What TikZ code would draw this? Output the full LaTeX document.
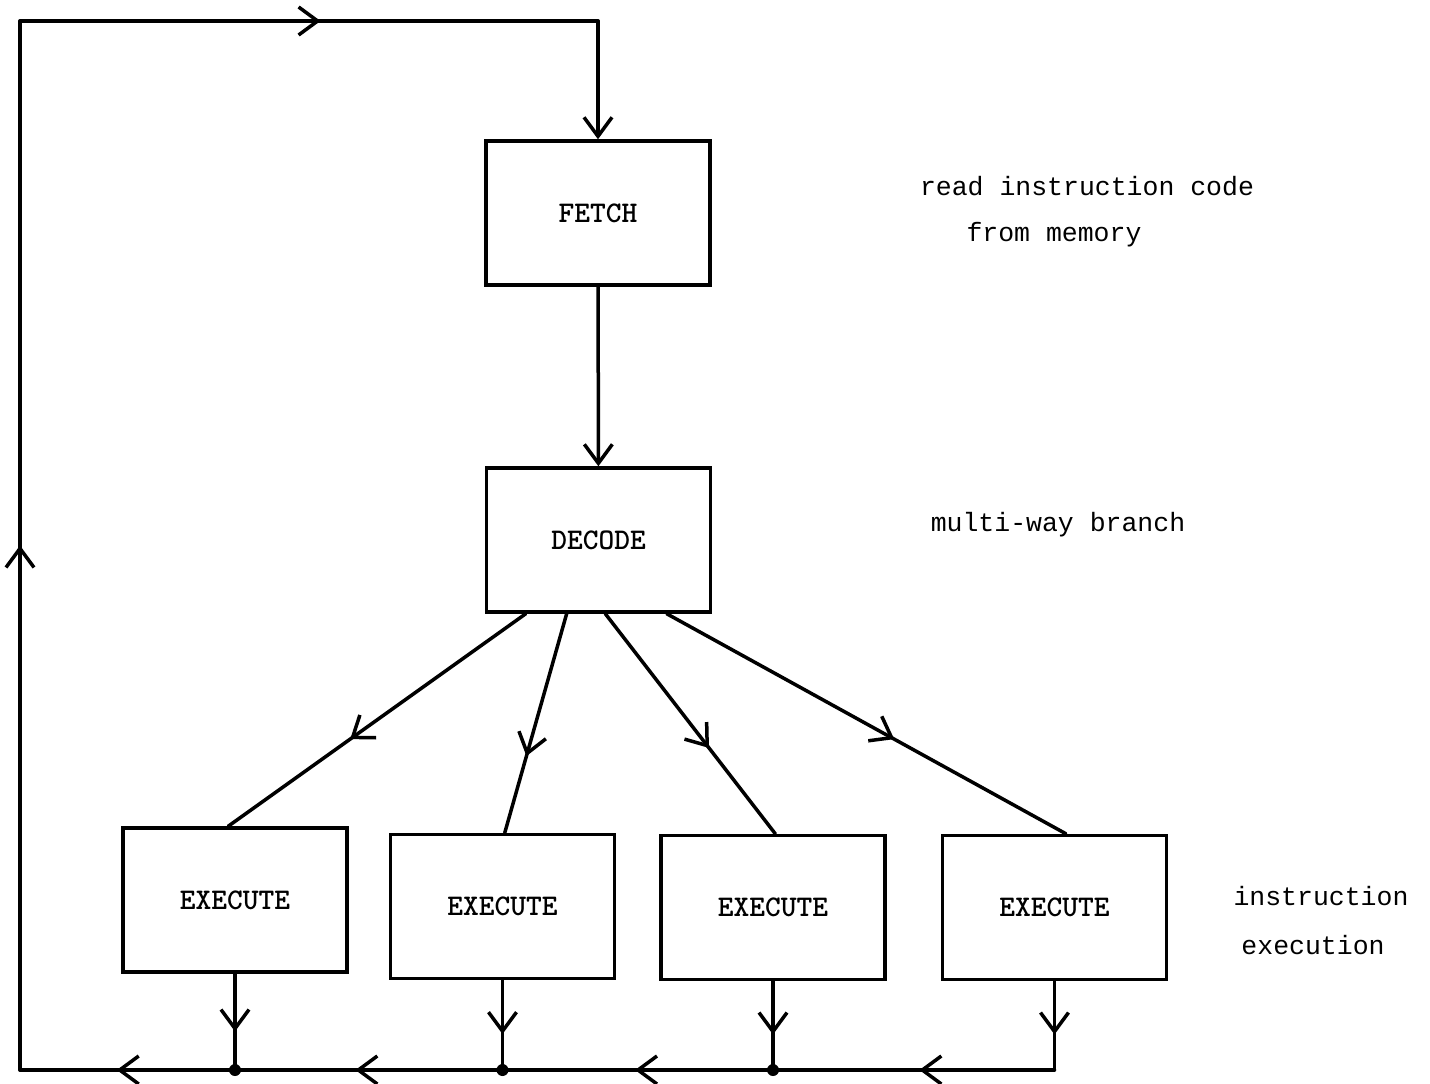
\documentclass[tikz,border=0pt]{standalone}
\usepackage{fontspec}
\newfontfamily\notefont{Liberation Mono}
\usetikzlibrary{calc,arrows.meta,decorations.markings,positioning}

\begin{document}
\begin{tikzpicture}[x=1pt,y=-1pt]

\tikzset{
unit/.style={draw,line width=3.5pt,minimum width=224pt,minimum height=144pt,inner sep=0pt,font=\ttfamily\bfseries\fontsize{30}{34}\selectfont},
note/.style={font=\notefont\fontsize{26.5}{30}\selectfont},
flow/.style={line width=3.5pt,line cap=round,line join=round},
tip/.style={-{Straight Barb[length=19pt,width=28pt]}},
midarrow/.style={postaction={decorate},decoration={markings,mark=at position #1 with {\arrow{Straight Barb[length=19pt,width=28pt]}}}},
junction/.style={circle,fill,inner sep=0pt,minimum size=12pt}
}

\useasboundingbox (0,0) rectangle (1430,1084);

% Nodes
\node[unit] (fetch) at (598,213) {FETCH};
\node[unit] (decode) at (598.5,540) {DECODE};

\node[unit] (ex1) at (235,900) {EXECUTE};
\node[unit] (ex2) at (502.5,906.5) {EXECUTE};
\node[unit] (ex3) at (773,907.5) {EXECUTE};
\node[unit] (ex4) at (1054.5,907.5) {EXECUTE};

\coordinate (bl) at (20,1070);
\coordinate (tl) at (20,21);
\coordinate (tr) at (fetch.north |- tl);

\coordinate (j1) at (ex1.south |- bl);
\coordinate (j2) at (ex2.south |- bl);
\coordinate (j3) at (ex3.south |- bl);
\coordinate (j4) at (ex4.south |- bl);

\coordinate (br1) at ($(decode.south west)!0.18!(decode.south east)$);
\coordinate (br2) at ($(decode.south west)!0.36!(decode.south east)$);
\coordinate (br3) at ($(decode.south west)!0.53!(decode.south east)$);
\coordinate (br4) at ($(decode.south west)!0.80!(decode.south east)$);

\coordinate (ex1top) at ($(ex1.north west)!0.47!(ex1.north east)$);
\coordinate (ex2top) at ($(ex2.north west)!0.51!(ex2.north east)$);
\coordinate (ex3top) at ($(ex3.north west)!0.51!(ex3.north east)$);
\coordinate (ex4top) at ($(ex4.north west)!0.55!(ex4.north east)$);


% Loop back
\draw[flow,midarrow=0.5] (bl) -- (tl);
\draw[flow,midarrow=0.52] (tl) -- (tr);
\draw[flow,tip] (tr) -- (fetch.north);

\draw[flow,tip] (fetch) -- (decode);


% Branches
\draw[flow,midarrow=0.59] (br1) -- (ex1top);
\draw[flow,midarrow=0.65] (br2) -- (ex2top);
\draw[flow,midarrow=0.61] (br3) -- (ex3top);
\draw[flow,midarrow=0.57] (br4) -- (ex4top);


% Return lines
\draw[flow,midarrow=0.6] (ex1.south) -- (j1);
\draw[flow,midarrow=0.6] (ex2.south) -- (j2);
\draw[flow,midarrow=0.6] (ex3.south) -- (j3);
\draw[flow,midarrow=0.6] (ex4.south) -- (j4);

\draw[flow,midarrow=0.48] (j4) -- (j3);
\draw[flow,midarrow=0.51] (j3) -- (j2);
\draw[flow,midarrow=0.55] (j2) -- (j1);
\draw[flow,midarrow=0.55] (j1) -- (bl);

\node[junction] (dot1) at (j1) {};
\node[junction] (dot2) at (j2) {};
\node[junction] (dot3) at (j3) {};


% Labels
\node[note] (lab1a) at (1087,186) {read instruction code};
\node[note] (lab1b) at (1054,235) {from memory};
\node[note] (lab2) at (1058,525) {multi-way branch};
\node[note] (lab3a) at (1321,896) {instruction};
\node[note] (lab3b) at (1313,945) {execution};

\end{tikzpicture}
\end{document}
